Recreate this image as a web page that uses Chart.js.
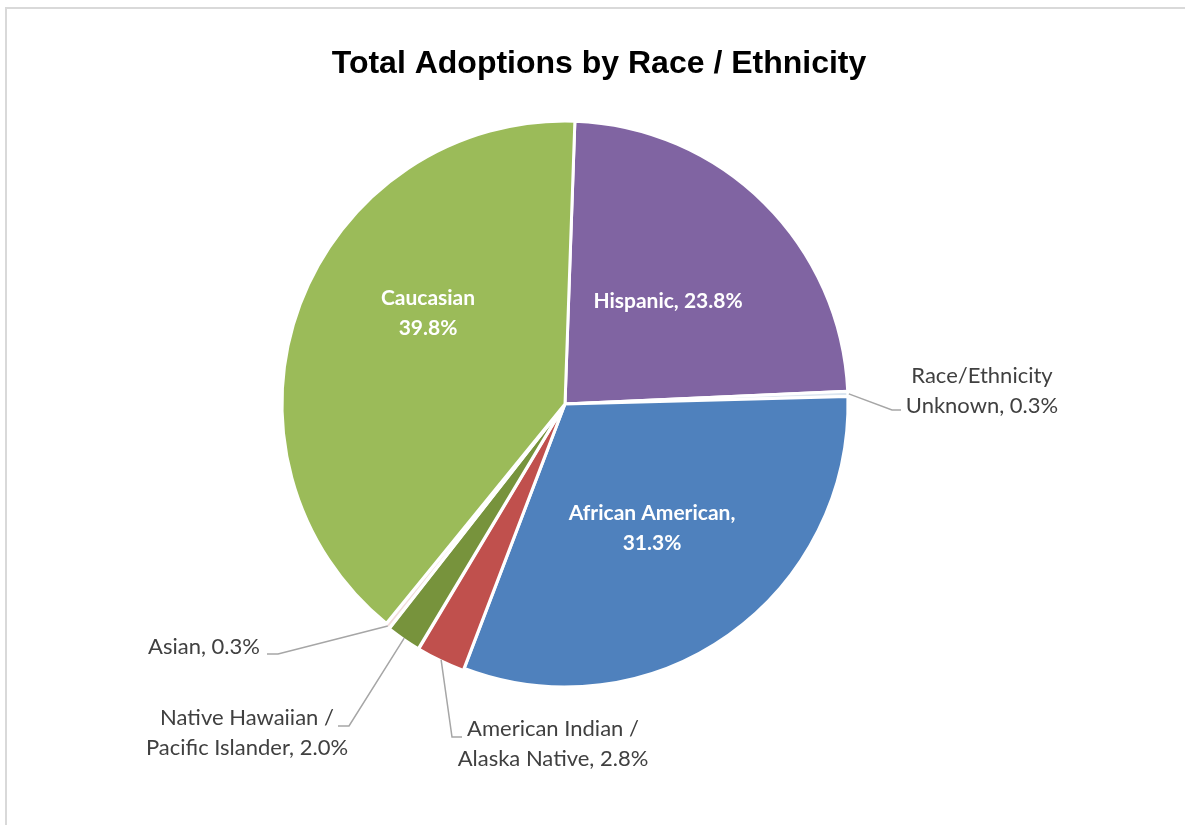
<!DOCTYPE html>
<html>
<head>
<meta charset="utf-8">
<script src="https://cdn.jsdelivr.net/npm/chart.js@4.4.1/dist/chart.umd.min.js"></script>
<style>
  html, body { margin: 0; padding: 0; background: #fff; }
  #wrap { position: absolute; left: 0; top: 0; width: 1185px; height: 825px; }
  #frame { position: absolute; left: 5px; top: 7px; width: 1200px; height: 840px;
           border-left: 2px solid #d9d9d9; border-top: 2px solid #d9d9d9; }
</style>
</head>
<body>
<div id="frame"></div>
<div id="wrap"><canvas id="chart"></canvas></div>
<script>
var title = 'Total Adoptions by Race / Ethnicity';

var groups = ['Hispanic', 'Race/Ethnicity Unknown', 'African American',
              'American Indian / Alaska Native', 'Native Hawaiian / Pacific Islander',
              'Asian', 'Caucasian'];
var shares = [23.8, 0.3, 31.3, 2.8, 2.0, 0.3, 39.8];

var colors = ['#8064A2', '#dce6f0', '#4F81BD', '#C0504D', '#77933C', '#f2dcdb', '#9BBB59'];

// how each label is written (lines) and placed
var labelLines = [
    ['Hispanic, 23.8%'],
    ['Race/Ethnicity', 'Unknown, 0.3%'],
    ['African American,', '31.3%'],
    ['American Indian /', 'Alaska Native, 2.8%'],
    ['Native Hawaiian /', 'Pacific Islander, 2.0%'],
    ['Asian, 0.3%'],
    ['Caucasian', '39.8%']
];

// inside: text centre relative to pie centre; outside: elbow, line end, text centre
var labelPos = [
    { inside: true, tx: 103, ty: -103 },
    { elbow: [327, 6], end: [336, 6], tx: 417, ty: -13 },
    { inside: true, tx: 87, ty: 124 },
    { elbow: [-113, 333], end: [-103, 333], tx: -12, ty: 340 },
    { elbow: [-216, 322], end: [-227, 322], tx: -318, ty: 329 },
    { elbow: [-287, 250], end: [-298, 250], tx: -361, ty: 243 },
    { inside: true, tx: -137, ty: -91 }
];

var labelPlugin = {
    id: 'labels',
    afterDraw: function (chart) {
        var ctx = chart.ctx;
        var arcs = chart.getDatasetMeta(0).data;
        ctx.save();
        ctx.font = 'bold 32px "Liberation Sans", Arial, sans-serif';
        ctx.fillStyle = '#000';
        ctx.textAlign = 'center';
        ctx.textBaseline = 'middle';
        ctx.fillText(title, 599, 64);

        arcs.forEach(function (arc, i) {
            var p = arc.getProps(['x', 'y', 'startAngle', 'endAngle', 'outerRadius'], true);
            var pos = labelPos[i];
            var lines = labelLines[i];
            var lh = 30;
            if (pos.inside) {
                ctx.font = 'bold 21px Lato, sans-serif';
                ctx.fillStyle = '#fff';
            } else {
                var mid = (p.startAngle + p.endAngle) / 2;
                var sx = p.x + Math.cos(mid) * (p.outerRadius + 1);
                var sy = p.y + Math.sin(mid) * (p.outerRadius + 1);
                ctx.strokeStyle = '#a6a6a6';
                ctx.lineWidth = 1.5;
                ctx.beginPath();
                ctx.moveTo(sx, sy);
                ctx.lineTo(p.x + pos.elbow[0], p.y + pos.elbow[1]);
                ctx.lineTo(p.x + pos.end[0], p.y + pos.end[1]);
                ctx.stroke();
                ctx.font = '22px Lato, sans-serif';
                ctx.fillStyle = '#404040';
            }
            var y0 = p.y + pos.ty - (lines.length - 1) * lh / 2;
            lines.forEach(function (t, k) {
                ctx.fillText(t, p.x + pos.tx, y0 + k * lh);
            });
        });
        ctx.restore();
    }
};

var chart = new Chart('chart', {
    type: 'pie',
    data: {
        labels: groups,
        datasets: [{
            data: shares,
            backgroundColor: colors,
            borderColor: '#ffffff',
            borderWidth: 3,
            offset: [0, 0, 0, 5, 5, 5, 0]
        }]
    },
    options: {
        responsive: true,
        maintainAspectRatio: false,
        animation: false,
        rotation: 2,
        layout: { padding: { left: 278, right: 333, top: 117, bottom: 134 } },
        plugins: {
            legend: { display: false },
            tooltip: { enabled: false },
            title: { display: false }
        }
    },
    plugins: [labelPlugin]
});
</script>
</body>
</html>
